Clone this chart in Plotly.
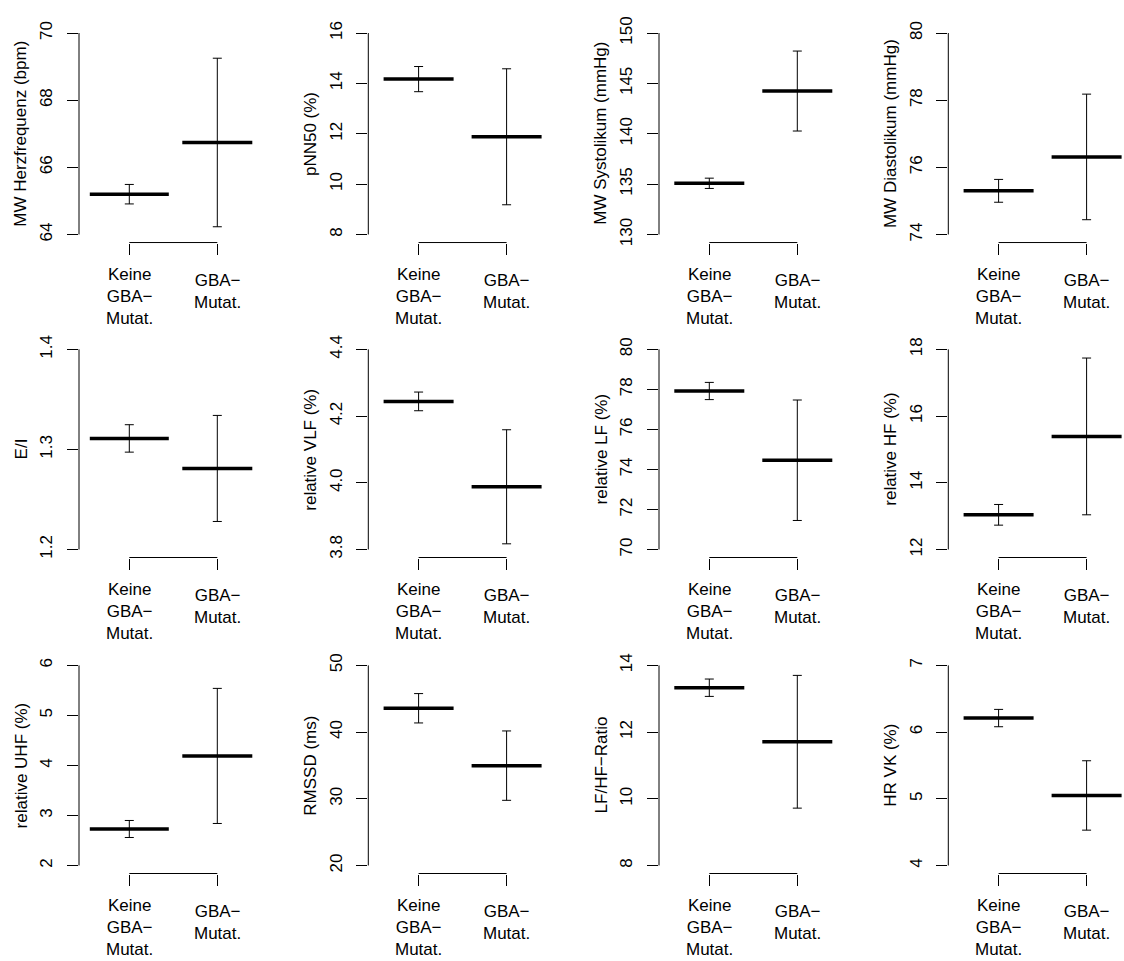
import plotly.graph_objects as go

# Group labels (x axis) and panel titles (y axis)
groups = ["Keine<br>GBA−<br>Mutat.", "GBA−<br>Mutat."]
titles = [
    "MW Herzfrequenz (bpm)", "pNN50 (%)", "MW Systolikum (mmHg)", "MW Diastolikum (mmHg)",
    "E/I", "relative VLF (%)", "relative LF (%)", "relative HF (%)",
    "relative UHF (%)", "RMSSD (ms)", "LF/HF−Ratio", "HR VK (%)",
]

# Means and standard errors per group
mean_keine = [65.20, 14.17, 135.08, 75.30, 1.311, 4.244, 77.92, 13.04, 2.73, 43.57, 13.33, 6.21]
se_keine = [0.29, 0.50, 0.51, 0.34, 0.0137, 0.028, 0.43, 0.31, 0.17, 2.20, 0.26, 0.13]
mean_gba = [66.74, 11.88, 144.24, 76.31, 1.281, 3.988, 74.46, 15.39, 4.19, 34.97, 11.71, 5.05]
se_gba = [2.51, 2.70, 3.97, 1.87, 0.053, 0.171, 3.01, 2.35, 1.35, 5.20, 1.99, 0.52]

# y-axis limits and tick labels per panel
y_low = [64, 8, 130, 74, 1.2, 3.8, 70, 12, 2, 20, 8, 4]
y_high = [70, 16, 150, 80, 1.4, 4.4, 80, 18, 6, 50, 14, 7]
y_ticks = [
    ["64", "66", "68", "70"],
    ["8", "10", "12", "14", "16"],
    ["130", "135", "140", "145", "150"],
    ["74", "76", "78", "80"],
    ["1.2", "1.3", "1.4"],
    ["3.8", "4.0", "4.2", "4.4"],
    ["70", "72", "74", "76", "78", "80"],
    ["12", "14", "16", "18"],
    ["2", "3", "4", "5", "6"],
    ["20", "30", "40", "50"],
    ["8", "10", "12", "14"],
    ["4", "5", "6", "7"],
]

W, H = 1124, 961
FONT = "Liberation Sans, Arial, Helvetica, sans-serif"
FS = 17

# panel geometry in pixels
col_axis_x = [79, 368.3, 659, 948.3]      # left edge of each plot region
cat_offset = 50.3                         # from left edge to first group
cat_step = 88.0                           # px between the two groups
row_tick_top = [24.33, 344.67, 664.67]    # px of top tick
row_tick_bot = [228.33, 547.33, 867.33]   # px of bottom tick
# 'line-ew' markers are drawn 1.4 x size wide
bar_len = [[79 / 1.4, 70 / 1.4], [50, 50], [50, 50], [50, 50]]

fig = go.Figure()
layout = dict(
    width=W, height=H,
    margin=dict(l=0, r=0, t=0, b=0),
    paper_bgcolor="white", plot_bgcolor="white",
    showlegend=False,
    font=dict(family=FONT, size=FS, color="black"),
    shapes=[], annotations=[],
)

for i in range(12):
    r, c = divmod(i, 4)
    n = "" if i == 0 else str(i + 1)
    xa, ya = "x" + n, "y" + n

    # x: groups at 1 and 2, left edge at 1 - cat_offset/cat_step
    x0_px = col_axis_x[c]
    x_left = 1 - cat_offset / cat_step
    x1_px = min(x0_px + 190.0, W)
    x_right = x_left + (x1_px - x0_px) / cat_step

    # y: 4% padding around the limits
    lo, hi = y_low[i], y_high[i]
    span = hi - lo
    top_px = row_tick_top[r]
    bot_px = row_tick_bot[r]
    pad_px = 0.04 * (bot_px - top_px)
    dom_top = 1 - (top_px - pad_px) / H
    dom_bot = 1 - (bot_px + pad_px) / H

    fig.add_trace(go.Scatter(
        x=[1, 2], y=[mean_keine[i], mean_gba[i]],
        mode="markers",
        marker=dict(symbol="line-ew", size=bar_len[c], color="black", opacity=1,
                    line=dict(width=3.5, color="black")),
        error_y=dict(type="data", array=[se_keine[i], se_gba[i]],
                     thickness=1, width=4.5, color="black"),
        xaxis=xa, yaxis=ya, hoverinfo="skip",
    ))

    layout["xaxis" + n] = dict(
        domain=[x0_px / W, x1_px / W], anchor=ya,
        range=[x_left, x_right],
        tickvals=[1, 2], ticks="outside", ticklen=11, tickwidth=1, tickcolor="black",
        showticklabels=False, showline=False, showgrid=False, zeroline=False,
        fixedrange=True,
    )
    layout["yaxis" + n] = dict(
        domain=[dom_bot, dom_top], anchor=xa,
        range=[lo - 0.04 * span, hi + 0.04 * span],
        tickvals=[float(t) for t in y_ticks[i]], ticktext=y_ticks[i],
        ticks="outside", ticklen=11, tickwidth=1, tickcolor="black",
        tickangle=-90, ticklabelstandoff=8,
        tickfont=dict(size=FS, family=FONT, color="black"),
        showline=False, showgrid=False, zeroline=False, fixedrange=True,
    )

    # y axis line between the outer ticks
    layout["shapes"].append(dict(
        type="line", xref=xa + " domain", x0=0, x1=0,
        yref=ya, y0=lo, y1=hi, line=dict(color="black", width=1)))
    # x axis line between the two groups
    layout["shapes"].append(dict(
        type="line", xref=xa, x0=1, x1=2,
        yref=ya + " domain", y0=0, y1=0, line=dict(color="black", width=1)))

    # group labels
    for gx, (lab, shift) in enumerate(zip(groups, [-54, -49]), start=1):
        layout["annotations"].append(dict(
            text=lab, xref=xa, x=gx, yref=ya + " domain", y=0,
            xanchor="center", yanchor="middle", yshift=shift,
            showarrow=False, align="center",
            font=dict(size=FS, family=FONT, color="black")))

    # axis title
    layout["annotations"].append(dict(
        text=titles[i], xref=xa + " domain", x=0, xshift=-58,
        yref=ya + " domain", y=0.5, xanchor="center", yanchor="middle",
        textangle=-90, showarrow=False,
        font=dict(size=FS, family=FONT, color="black")))

fig.update_layout(**layout)
fig.write_html("out.html")
